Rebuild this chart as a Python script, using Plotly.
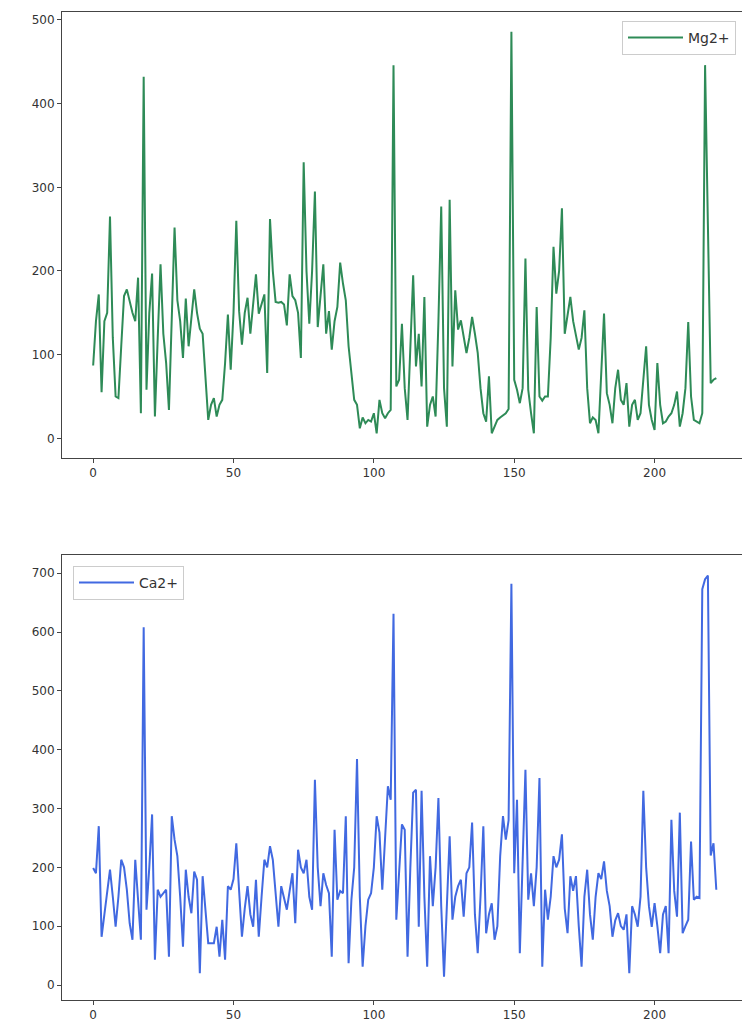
import plotly.graph_objects as go

mg = [
    87, 140, 172, 55, 140, 150, 265, 120, 50, 48,
    110, 170, 178, 162, 150, 140, 192, 30, 432, 58,
    150, 197, 26, 120, 208, 125, 90, 34, 150, 252,
    165, 140, 96, 167, 110, 140, 178, 150, 131, 125,
    70, 22, 40, 48, 26, 40, 46, 90, 148, 82,
    150, 260, 152, 112, 150, 168, 125, 160, 196, 149,
    160, 172, 78, 262, 200, 163, 162, 163, 160, 135,
    196, 170, 165, 150, 96, 330, 200, 137, 200, 295,
    133, 170, 208, 125, 152, 106, 140, 157, 210, 185,
    165, 110, 74, 46, 40, 12, 25, 18, 22, 20,
    30, 6, 46, 30, 24, 30, 34, 446, 62, 70,
    137, 60, 22, 110, 195, 86, 125, 62, 169, 14,
    40, 50, 26, 140, 277, 60, 14, 285, 86, 177,
    130, 141, 120, 102, 120, 145, 125, 102, 60, 30,
    20, 74, 6, 15, 22, 25, 28, 30, 35, 486,
    70, 58, 42, 60, 215, 58, 30, 6, 157, 50,
    45, 50, 50, 120, 229, 173, 200, 275, 125, 150,
    169, 140, 125, 106, 120, 153, 60, 18, 25, 22,
    6, 80, 149, 54, 40, 18, 60, 82, 46, 40,
    66, 14, 40, 46, 22, 30, 70, 110, 40, 22,
    10, 90, 40, 18, 20, 26, 30, 40, 56, 14,
    30, 60, 139, 50, 22, 20, 18, 30, 446, 256,
    66, 70, 72,
]

ca = [
    199, 190, 270, 82, 120, 156, 196, 150, 99, 150,
    213, 200, 162, 105, 77, 213, 150, 77, 608, 128,
    200, 290, 43, 162, 150, 156, 162, 48, 287, 247,
    219, 150, 65, 196, 150, 122, 193, 179, 20, 185,
    134, 71, 71, 71, 99, 48, 111, 43, 168, 162,
    180, 241, 160, 82, 130, 168, 120, 99, 179, 82,
    150, 213, 200, 236, 213, 160, 99, 168, 150, 128,
    160, 190, 105, 230, 200, 190, 213, 150, 128, 349,
    200, 134, 190, 170, 156, 48, 264, 145, 160, 156,
    287, 37, 145, 200, 384, 150, 31, 100, 145, 156,
    200, 287, 259, 162, 250, 338, 315, 631, 111, 200,
    273, 264, 48, 200, 327, 332, 99, 330, 150, 31,
    219, 134, 200, 318, 134, 14, 150, 253, 111, 150,
    168, 179, 116, 190, 200, 276, 120, 54, 150, 270,
    88, 120, 139, 77, 100, 219, 287, 247, 280, 682,
    190, 315, 54, 200, 366, 145, 190, 134, 200, 352,
    31, 162, 111, 150, 219, 200, 213, 256, 130, 88,
    185, 160, 185, 100, 31, 150, 196, 120, 77, 150,
    190, 180, 210, 160, 134, 82, 110, 122, 100, 94,
    120, 20, 134, 120, 99, 150, 330, 200, 134, 99,
    139, 100, 54, 120, 134, 54, 281, 160, 116, 293,
    88, 100, 111, 244, 145, 150, 148, 673, 690, 696,
    220, 241, 162,
]

x_mg = list(range(len(mg)))
x_ca = list(range(len(ca)))

x_ticks = [0, 50, 100, 150, 200]
y_ticks_mg = [0, 100, 200, 300, 400, 500]
y_ticks_ca = [0, 100, 200, 300, 400, 500, 600, 700]

W, H = 742, 1036
L = 62

fig = go.Figure()
fig.add_trace(go.Scatter(x=x_mg, y=mg, mode="lines", name="Mg2+",
                         line=dict(color="#2e8b57", width=2),
                         xaxis="x", yaxis="y", legend="legend"))
fig.add_trace(go.Scatter(x=x_ca, y=ca, mode="lines", name="Ca2+",
                         line=dict(color="#4169e1", width=2),
                         xaxis="x2", yaxis="y2", legend="legend2"))

axis_common = dict(showline=True, linecolor="#444", linewidth=1, mirror=True,
                   ticks="outside", ticklen=4, tickwidth=1, tickcolor="#444",
                   showgrid=False, zeroline=False,
                   tickfont=dict(family="DejaVu Sans", size=12, color="#333"))

x_hi = (W - L) / 2.807 - 11.1

legend_common = dict(bordercolor="#ccc", borderwidth=1, bgcolor="white",
                     itemwidth=55,
                     font=dict(family="DejaVu Sans", size=14, color="#333"))

fig.update_layout(
    width=W, height=H,
    margin=dict(l=L, r=0, t=0, b=0),
    paper_bgcolor="white", plot_bgcolor="white",
    font=dict(family="DejaVu Sans", size=12, color="#333"),
    xaxis=dict(domain=[0, 1], anchor="y", range=[-11.1, x_hi],
               tickvals=x_ticks, **axis_common),
    yaxis=dict(domain=[1 - 458 / H, 1 - 12 / H], anchor="x", range=[-23.5, 509.5],
               tickvals=y_ticks_mg, **axis_common),
    xaxis2=dict(domain=[0, 1], anchor="y2", range=[-11.1, x_hi],
                tickvals=x_ticks, **axis_common),
    yaxis2=dict(domain=[1 - 1000 / H, 1 - 555 / H], anchor="x2", range=[-25.5, 731],
                tickvals=y_ticks_ca, **axis_common),
    legend=dict(x=(736 - L) / (W - L), y=1 - 21 / H, xanchor="right", yanchor="top",
                **legend_common),
    legend2=dict(x=(73 - L) / (W - L), y=1 - 566 / H, xanchor="left", yanchor="top",
                 **legend_common),
    showlegend=True,
)

fig.write_html("out.html")
